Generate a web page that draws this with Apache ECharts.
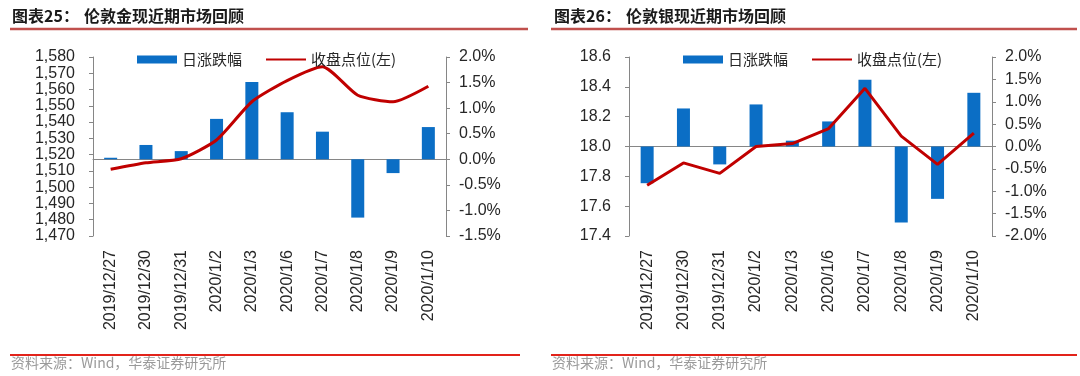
<!DOCTYPE html>
<html>
<head>
<meta charset="utf-8">
<style>
    html, body { margin: 0; padding: 0; background: #fff; }
    #chart { width: 1080px; height: 376px; }
</style>
</head>
<body>
<div id="chart"></div>
<script src="https://cdn.jsdelivr.net/npm/echarts@6/dist/echarts.min.js"></script>
<script>
    // 数据
    var dates = ['2019/12/27', '2019/12/30', '2019/12/31', '2020/1/2', '2020/1/3', '2020/1/6', '2020/1/7', '2020/1/8', '2020/1/9', '2020/1/10'];
    var goldChange = [0.03, 0.28, 0.16, 0.79, 1.51, 0.92, 0.54, -1.14, -0.27, 0.63];   // 日涨跌幅 %
    var goldClose = [1511, 1515, 1517.5, 1529, 1552.5, 1565.5, 1574, 1556.5, 1552.5, 1562];
    var silverChange = [-0.82, 0.85, -0.40, 0.94, 0.13, 0.56, 1.49, -1.70, -1.17, 1.20];
    var silverClose = [17.74, 17.89, 17.82, 18.00, 18.02, 18.12, 18.39, 18.07, 17.88, 18.09];
    // 坐标轴范围 [min, max, interval]
    var goldLeftAxis = [1470, 1580, 10];
    var goldRightAxis = [-1.5, 2.0, 0.5];
    var silverLeftAxis = [17.4, 18.6, 0.2];
    var silverRightAxis = [-2.0, 2.0, 0.5];

    var axisColor = '#868686';
    var labelFont = { color: '#262626', fontSize: 16, fontFamily: 'Liberation Sans, Arial' };

    function xAxisCfg(gridIndex) {
        return {
            type: 'category',
            gridIndex: gridIndex,
            data: dates,
            axisLine: { lineStyle: { color: axisColor } },
            axisTick: { length: 4, lineStyle: { color: axisColor } },
            axisLabel: Object.assign({ rotate: 90, margin: 14, interval: 0 }, labelFont)
        };
    }

    function yAxisCfg(gridIndex, range, pos, fmt, margin) {
        return {
            type: 'value',
            gridIndex: gridIndex,
            position: pos,
            min: range[0],
            max: range[1],
            interval: range[2],
            axisLine: { show: true, lineStyle: { color: axisColor } },
            axisTick: { show: true, length: 4, lineStyle: { color: axisColor } },
            splitLine: { show: false },
            axisLabel: Object.assign({ margin: margin, formatter: fmt }, labelFont)
        };
    }

    var fmtThousand = function (v) { return Math.round(v).toLocaleString('en-US'); };
    var fmtOne = function (v) { return v.toFixed(1); };
    var fmtPct = function (v) { return v.toFixed(1) + '%'; };

    var legendText = { color: '#262626', fontSize: 15, fontFamily: 'Noto Sans CJK SC' };
    var legendData = [
        { name: '日涨跌幅', icon: 'rect' },
        { name: '收盘点位(左)', itemStyle: { opacity: 0 } }   // 只显示线，不要圆点
    ];

    var titleStyle = { fontSize: 16, fontWeight: 'bold', fontFamily: 'Noto Sans CJK SC', fill: '#1a1a1a' };
    var sourceStyle = { text: '资料来源：Wind，华泰证券研究所', fontSize: 14, fontFamily: 'Noto Sans CJK SC', fill: '#9a9a9a' };

    var myChart = echarts.init(document.getElementById('chart'));
    myChart.setOption({
        animation: false,
        grid: [
            { left: 93, top: 57, width: 353, height: 179 },
            { left: 629, top: 57, width: 363, height: 179 }
        ],
        legend: [
            { left: 132, top: 47, itemWidth: 40, itemHeight: 8, itemGap: 23, data: legendData, textStyle: legendText },
            { left: 678, top: 47, itemWidth: 40, itemHeight: 8, itemGap: 23, data: legendData, textStyle: legendText }
        ],
        xAxis: [xAxisCfg(0), xAxisCfg(1)],
        yAxis: [
            yAxisCfg(0, goldLeftAxis, 'left', fmtThousand, 18),
            yAxisCfg(0, goldRightAxis, 'right', fmtPct, 13),
            yAxisCfg(1, silverLeftAxis, 'left', fmtOne, 18),
            yAxisCfg(1, silverRightAxis, 'right', fmtPct, 13)
        ],
        series: [
            {
                name: '日涨跌幅', type: 'bar', xAxisIndex: 0, yAxisIndex: 1,
                barWidth: 13, data: goldChange,
                itemStyle: { color: '#0B6EC5' }
            },
            {
                name: '收盘点位(左)', type: 'line', xAxisIndex: 0, yAxisIndex: 0,
                data: goldClose, symbol: 'none', smooth: 0.2,
                lineStyle: { color: '#C00000', width: 3 },
                itemStyle: { color: '#C00000' }
            },
            {
                name: '日涨跌幅', type: 'bar', xAxisIndex: 1, yAxisIndex: 3,
                barWidth: 13, data: silverChange,
                itemStyle: { color: '#0B6EC5' }
            },
            {
                name: '收盘点位(左)', type: 'line', xAxisIndex: 1, yAxisIndex: 2,
                data: silverClose, symbol: 'none',
                lineStyle: { color: '#C00000', width: 3 },
                itemStyle: { color: '#C00000' }
            }
        ],
        graphic: [
            // 标题
            { type: 'text', left: 12, top: 8, style: Object.assign({ text: '图表25：' }, titleStyle) },
            { type: 'text', left: 84, top: 8, style: Object.assign({ text: '伦敦金现近期市场回顾' }, titleStyle) },
            { type: 'text', left: 554, top: 8, style: Object.assign({ text: '图表26：' }, titleStyle) },
            { type: 'text', left: 626, top: 8, style: Object.assign({ text: '伦敦银现近期市场回顾' }, titleStyle) },
            { type: 'line', shape: { x1: 10, y1: 29, x2: 528, y2: 29 }, style: { stroke: '#C0504D', lineWidth: 2.5 } },
            { type: 'line', shape: { x1: 551, y1: 29, x2: 1077, y2: 29 }, style: { stroke: '#C0504D', lineWidth: 2.5 } },
            // 底部
            { type: 'line', shape: { x1: 10, y1: 355, x2: 520, y2: 355 }, style: { stroke: '#E2231A', lineWidth: 2 } },
            { type: 'line', shape: { x1: 551, y1: 355, x2: 1077, y2: 355 }, style: { stroke: '#E2231A', lineWidth: 2 } },
            { type: 'text', left: 11, top: 356, style: sourceStyle },
            { type: 'text', left: 552, top: 356, style: sourceStyle }
        ]
    });
</script>
</body>
</html>
